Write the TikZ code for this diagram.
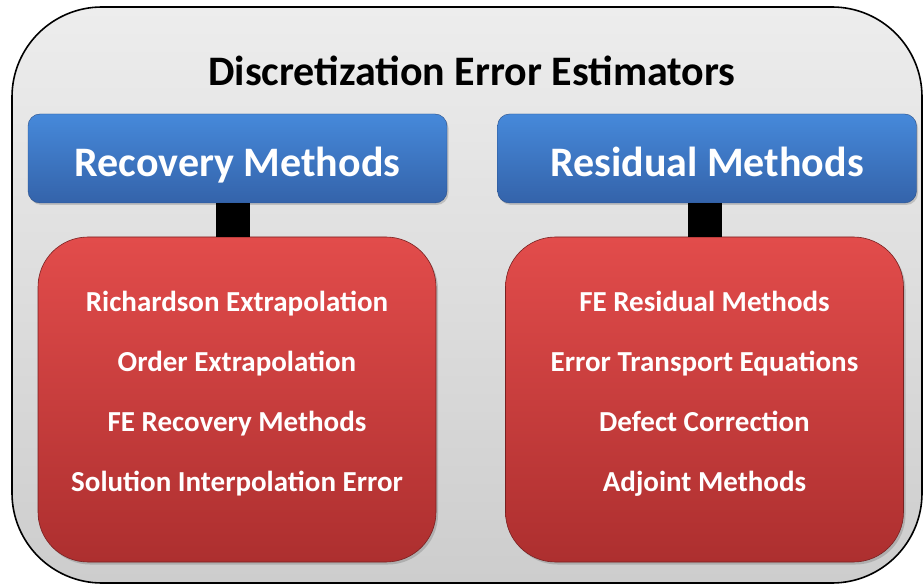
\documentclass[tikz,border=0pt]{standalone}
\usepackage{xcolor}
\usepackage{fontspec}
\setmainfont{Carlito}
\usepackage{tikz}
\usetikzlibrary{shadows}

\definecolor{boardtop}{HTML}{EDEDED}
\definecolor{boardbot}{HTML}{CDCDCD}
\definecolor{bluetop}{HTML}{4689DA}
\definecolor{bluebot}{HTML}{3463AA}
\definecolor{redtop}{HTML}{E24C4B}
\definecolor{redbot}{HTML}{AD2F2F}

\begin{document}
\begin{tikzpicture}[x=1pt, y=-1pt, font=\bfseries]
	\useasboundingbox (0,0) rectangle (924,585);
	% Define styles
	\tikzstyle{board}=[rectangle, rounded corners=90pt, draw=black, line width=1.6pt, top color=boardtop, bottom color=boardbot, minimum width=910pt, minimum height=576pt, inner sep=0pt]
	\tikzstyle{family}=[rectangle, rounded corners=12pt, top color=bluetop, bottom color=bluebot, draw=bluebot!80!black, line width=0.4pt, minimum width=419pt, minimum height=89pt, inner sep=0pt, text height=36pt, text depth=0pt, text=white, font=\fontsize{42}{44}\selectfont\bfseries, drop shadow={opacity=0.35, shadow xshift=1.5pt, shadow yshift=-2pt}]
	\tikzstyle{members}=[rectangle, rounded corners=50pt, top color=redtop, bottom color=redbot, draw=redbot!70!black, line width=0.6pt, minimum width=398pt, minimum height=325pt, inner sep=0pt, text depth=16pt, text=white, align=center, font=\fontsize{29}{60}\selectfont\bfseries, drop shadow={opacity=0.4, shadow xshift=2pt, shadow yshift=-2.5pt}]
	\tikzstyle{link}=[line width=34pt, black]

	\node[board] (board) at (467,295) {};
	\node[font=\fontsize{42}{44}\selectfont\bfseries, anchor=base] (title) at (472,86) {Discretization Error Estimators};

	\node[family] (recov) at (237.5,158.5) {Recovery Methods};
	\node[family] (resid) at (707,158.5) {Residual Methods};

	\node[members] (recovlist) at (237,399.5) {Richardson Extrapolation\\
		Order Extrapolation\\
		FE Recovery Methods\\
		Solution Interpolation Error};
	\node[members] (residlist) at (704.5,399.5) {FE Residual Methods\\
		Error Transport Equations\\
		Defect Correction\\
		Adjoint Methods};

	% vertical bars between the two levels
	\draw[link] ([xshift=-4pt]recovlist.north) -- ([xshift=-4pt]recovlist.north |- recov.south);
	\draw[link] (residlist.north) -- (residlist.north |- resid.south);
\end{tikzpicture}
\end{document}
